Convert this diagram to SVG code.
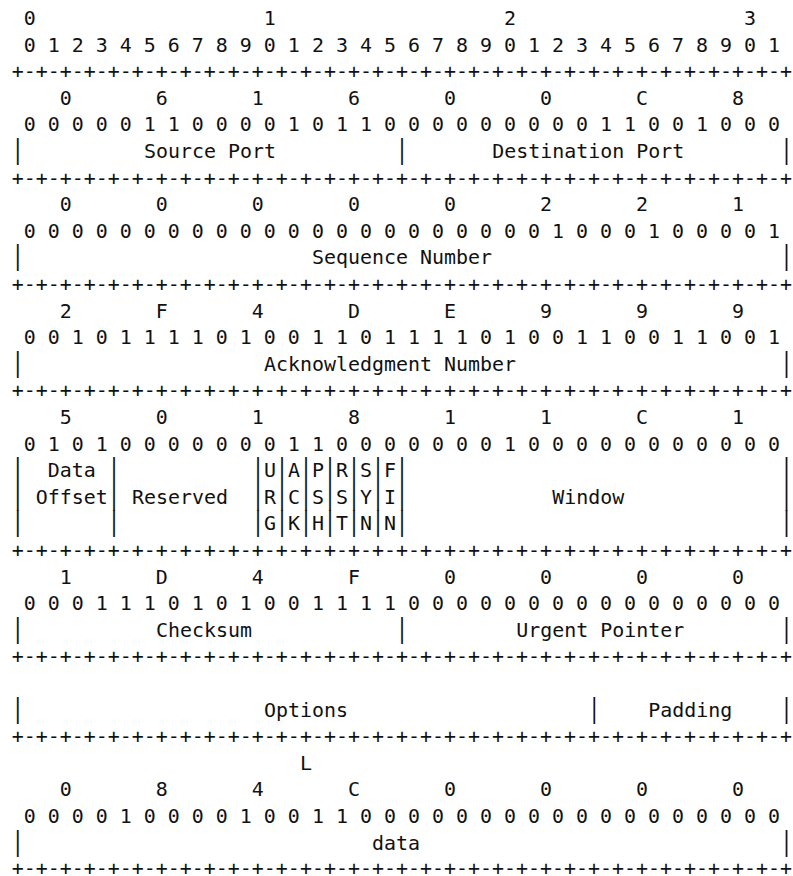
<svg xmlns="http://www.w3.org/2000/svg" width="793" height="876" viewBox="0 0 793 876">
<style>
text { font-family: "DejaVu Sans Mono", monospace; font-size: 19.95px; fill: #111; white-space: pre; }
</style>
<rect width="793" height="876" fill="#fff"/>
<g id="ruler">
<text x="11.8" y="25" xml:space="preserve"> 0                   1                   2                   3</text>
<text x="11.8" y="51.6" xml:space="preserve"> 0 1 2 3 4 5 6 7 8 9 0 1 2 3 4 5 6 7 8 9 0 1 2 3 4 5 6 7 8 9 0 1</text>
<text x="11.8" y="78.2">+-+-+-+-+-+-+-+-+-+-+-+-+-+-+-+-+-+-+-+-+-+-+-+-+-+-+-+-+-+-+-+-+</text>
</g>
<g id="row-ports">
<text x="11.8" y="104.8" xml:space="preserve">    0       6       1       6       0       0       C       8</text>
<text x="11.8" y="131.4" xml:space="preserve"> 0 0 0 0 0 1 1 0 0 0 0 1 0 1 1 0 0 0 0 0 0 0 0 0 1 1 0 0 1 0 0 0</text>
<text transform="translate(11.8 158) scale(1 1.3)">|</text>
<text x="143.91" y="158">Source Port</text>
<text transform="translate(396.12 158) scale(1 1.3)">|</text>
<text x="492.2" y="158">Destination Port</text>
<text transform="translate(780.44 158) scale(1 1.3)">|</text>
<text x="11.8" y="184.6">+-+-+-+-+-+-+-+-+-+-+-+-+-+-+-+-+-+-+-+-+-+-+-+-+-+-+-+-+-+-+-+-+</text>
</g>
<g id="row-seq">
<text x="11.8" y="211.2" xml:space="preserve">    0       0       0       0       0       2       2       1</text>
<text x="11.8" y="237.8" xml:space="preserve"> 0 0 0 0 0 0 0 0 0 0 0 0 0 0 0 0 0 0 0 0 0 0 1 0 0 0 1 0 0 0 0 1</text>
<text transform="translate(11.8 264.4) scale(1 1.3)">|</text>
<text x="312.05" y="264.4">Sequence Number</text>
<text transform="translate(780.44 264.4) scale(1 1.3)">|</text>
<text x="11.8" y="291">+-+-+-+-+-+-+-+-+-+-+-+-+-+-+-+-+-+-+-+-+-+-+-+-+-+-+-+-+-+-+-+-+</text>
</g>
<g id="row-ack">
<text x="11.8" y="317.6" xml:space="preserve">    2       F       4       D       E       9       9       9</text>
<text x="11.8" y="344.2" xml:space="preserve"> 0 0 1 0 1 1 1 1 0 1 0 0 1 1 0 1 1 1 1 0 1 0 0 1 1 0 0 1 1 0 0 1</text>
<text transform="translate(11.8 370.8) scale(1 1.3)">|</text>
<text x="264.01" y="370.8">Acknowledgment Number</text>
<text transform="translate(780.44 370.8) scale(1 1.3)">|</text>
<text x="11.8" y="397.4">+-+-+-+-+-+-+-+-+-+-+-+-+-+-+-+-+-+-+-+-+-+-+-+-+-+-+-+-+-+-+-+-+</text>
</g>
<g id="row-flags">
<text x="11.8" y="424" xml:space="preserve">    5       0       1       8       1       1       C       1</text>
<text x="11.8" y="450.6" xml:space="preserve"> 0 1 0 1 0 0 0 0 0 0 0 1 1 0 0 0 0 0 0 0 1 0 0 0 0 0 0 0 0 0 0 0</text>
<text x="47.83" y="477.2">Data</text>
<text x="35.82" y="503.8">Offset</text>
<text x="131.9" y="503.8">Reserved</text>
<text x="264.01" y="477.2">U</text><text x="288.03" y="477.2">A</text><text x="312.05" y="477.2">P</text><text x="336.07" y="477.2">R</text><text x="360.09" y="477.2">S</text><text x="384.11" y="477.2">F</text>
<text x="264.01" y="503.8">R</text><text x="288.03" y="503.8">C</text><text x="312.05" y="503.8">S</text><text x="336.07" y="503.8">S</text><text x="360.09" y="503.8">Y</text><text x="384.11" y="503.8">I</text>
<text x="264.01" y="530.4">G</text><text x="288.03" y="530.4">K</text><text x="312.05" y="530.4">H</text><text x="336.07" y="530.4">T</text><text x="360.09" y="530.4">N</text><text x="384.11" y="530.4">N</text>
<text x="552.25" y="503.8">Window</text>
<text transform="translate(11.8 477.2) scale(1 1.3)">|</text>
<text transform="translate(107.88 477.2) scale(1 1.3)">|</text>
<text transform="translate(252 477.2) scale(1 1.3)">|</text>
<text transform="translate(276.02 477.2) scale(1 1.3)">|</text>
<text transform="translate(300.04 477.2) scale(1 1.3)">|</text>
<text transform="translate(324.06 477.2) scale(1 1.3)">|</text>
<text transform="translate(348.08 477.2) scale(1 1.3)">|</text>
<text transform="translate(372.1 477.2) scale(1 1.3)">|</text>
<text transform="translate(396.12 477.2) scale(1 1.3)">|</text>
<text transform="translate(780.44 477.2) scale(1 1.3)">|</text>
<text transform="translate(11.8 503.8) scale(1 1.3)">|</text>
<text transform="translate(107.88 503.8) scale(1 1.3)">|</text>
<text transform="translate(252 503.8) scale(1 1.3)">|</text>
<text transform="translate(276.02 503.8) scale(1 1.3)">|</text>
<text transform="translate(300.04 503.8) scale(1 1.3)">|</text>
<text transform="translate(324.06 503.8) scale(1 1.3)">|</text>
<text transform="translate(348.08 503.8) scale(1 1.3)">|</text>
<text transform="translate(372.1 503.8) scale(1 1.3)">|</text>
<text transform="translate(396.12 503.8) scale(1 1.3)">|</text>
<text transform="translate(780.44 503.8) scale(1 1.3)">|</text>
<text transform="translate(11.8 530.4) scale(1 1.3)">|</text>
<text transform="translate(107.88 530.4) scale(1 1.3)">|</text>
<text transform="translate(252 530.4) scale(1 1.3)">|</text>
<text transform="translate(276.02 530.4) scale(1 1.3)">|</text>
<text transform="translate(300.04 530.4) scale(1 1.3)">|</text>
<text transform="translate(324.06 530.4) scale(1 1.3)">|</text>
<text transform="translate(348.08 530.4) scale(1 1.3)">|</text>
<text transform="translate(372.1 530.4) scale(1 1.3)">|</text>
<text transform="translate(396.12 530.4) scale(1 1.3)">|</text>
<text transform="translate(780.44 530.4) scale(1 1.3)">|</text>
<text x="11.8" y="557">+-+-+-+-+-+-+-+-+-+-+-+-+-+-+-+-+-+-+-+-+-+-+-+-+-+-+-+-+-+-+-+-+</text>
</g>
<g id="row-checksum">
<text x="11.8" y="583.6" xml:space="preserve">    1       D       4       F       0       0       0       0</text>
<text x="11.8" y="610.2" xml:space="preserve"> 0 0 0 1 1 1 0 1 0 1 0 0 1 1 1 1 0 0 0 0 0 0 0 0 0 0 0 0 0 0 0 0</text>
<text transform="translate(11.8 636.8) scale(1 1.3)">|</text>
<text x="155.92" y="636.8">Checksum</text>
<text transform="translate(396.12 636.8) scale(1 1.3)">|</text>
<text x="516.22" y="636.8">Urgent Pointer</text>
<text transform="translate(780.44 636.8) scale(1 1.3)">|</text>
<text x="11.8" y="663.4">+-+-+-+-+-+-+-+-+-+-+-+-+-+-+-+-+-+-+-+-+-+-+-+-+-+-+-+-+-+-+-+-+</text>
</g>
<g id="row-options">
<text transform="translate(11.8 716.6) scale(1 1.3)">|</text>
<text x="264.01" y="716.6">Options</text>
<text transform="translate(588.28 716.6) scale(1 1.3)">|</text>
<text x="648.33" y="716.6">Padding</text>
<text transform="translate(780.44 716.6) scale(1 1.3)">|</text>
<text x="11.8" y="743.2">+-+-+-+-+-+-+-+-+-+-+-+-+-+-+-+-+-+-+-+-+-+-+-+-+-+-+-+-+-+-+-+-+</text>
</g>
<g id="row-data">
<text x="300.04" y="769.8">L</text>
<text x="11.8" y="796.4" xml:space="preserve">    0       8       4       C       0       0       0       0</text>
<text x="11.8" y="823" xml:space="preserve"> 0 0 0 0 1 0 0 0 0 1 0 0 1 1 0 0 0 0 0 0 0 0 0 0 0 0 0 0 0 0 0 0</text>
<text transform="translate(11.8 849.6) scale(1 1.3)">|</text>
<text x="372.1" y="849.6">data</text>
<text transform="translate(780.44 849.6) scale(1 1.3)">|</text>
<text x="11.8" y="875">+-+-+-+-+-+-+-+-+-+-+-+-+-+-+-+-+-+-+-+-+-+-+-+-+-+-+-+-+-+-+-+-+</text>
</g>
</svg>
